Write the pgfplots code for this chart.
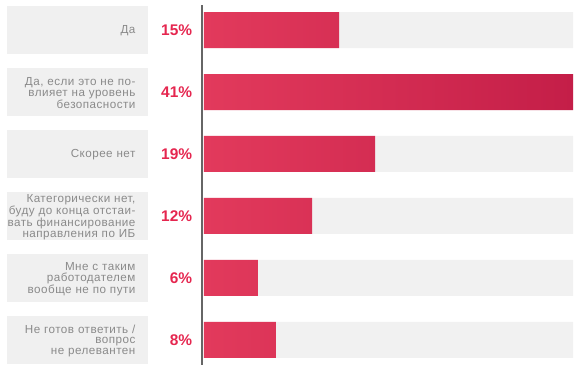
\documentclass[border=0pt]{standalone}
\usepackage{fontspec}
\setmainfont{Liberation Sans}
\newfontfamily\lblfont[LetterSpace=4]{Liberation Sans}
\usepackage{pgfplots}
\pgfplotsset{compat=1.18}
\definecolor{barL}{HTML}{E23A5C}
\definecolor{barR}{HTML}{C41E48}
\definecolor{pct}{HTML}{E5264F}
\definecolor{lbl}{HTML}{8A8A8A}
\definecolor{boxg}{HTML}{F0F0F0}
\definecolor{track}{HTML}{F1F1F1}
\definecolor{axl}{HTML}{666666}
\begin{document}
\begin{tikzpicture}
\begin{axis}[
  scale only axis,
  width=371.25bp, height=368bp,
  xmin=-0.25, xmax=41,
  ymin=-0.484, ymax=5.452,
  y dir=reverse,
  axis lines=none,
  clip=false,
  ytick={0,...,5},
  yticklabels={},
]
% gray label boxes
\pgfplotsinvokeforeach{0,...,5}{
  \fill[boxg] (axis cs:0,#1) ++(-197bp,-24bp) rectangle ++(141bp,48bp);
}
% track
\addplot[xbar, bar width=36bp, bar shift=0pt, draw=none, fill=track]
  coordinates {(41,0) (41,1) (41,2) (41,3) (41,4) (41,5)};
% bars
\addplot[xbar, bar width=36bp, bar shift=0pt, draw=none, left color=barL, right color=barR]
  coordinates {(15,0) (41,1) (19,2) (12,3) (6,4) (8,5)};
% percentages
\addplot[draw=none, mark=none, nodes near coords, point meta=explicit symbolic,
  nodes near coords style={anchor=east, inner sep=0pt, font=\fontsize{15.5}{18}\selectfont\bfseries, text=pct}]
  coordinates {(-1.3,0) [15\%] (-1.3,1) [41\%] (-1.3,2) [19\%] (-1.3,3) [12\%] (-1.3,4) [6\%] (-1.3,5) [8\%]};
% category labels
\addplot[draw=none, mark=none, nodes near coords, point meta=explicit symbolic,
  nodes near coords style={anchor=east, inner sep=0pt, yshift=-1bp, text width=133bp, align=right,
    font=\lblfont\fontsize{11.7}{10.7}\selectfont, text=lbl}]
  coordinates {(-7.6,0) [Да]
               (-7.6,1) [Да, если это не по-\\влияет на уровень\\безопасности]
               (-7.6,2) [Скорее нет]
               (-7.6,3) [Категорически нет,\\буду до конца отстаи-\\вать финансирование\\направления по ИБ]
               (-7.6,4) [Мне с таким\\работодателем\\вообще не по пути]
               (-7.6,5) [Не готов ответить /\\вопрос\\не релевантен]};
\draw[axl, line width=1.6bp] (axis cs:-0.25,-0.403) -- (axis cs:-0.25,5.403);
\end{axis}
\pgfresetboundingbox
\path (current axis.south west) ++(-201.75bp,0) rectangle ([xshift=7bp]current axis.north east);
\end{tikzpicture}
\end{document}
